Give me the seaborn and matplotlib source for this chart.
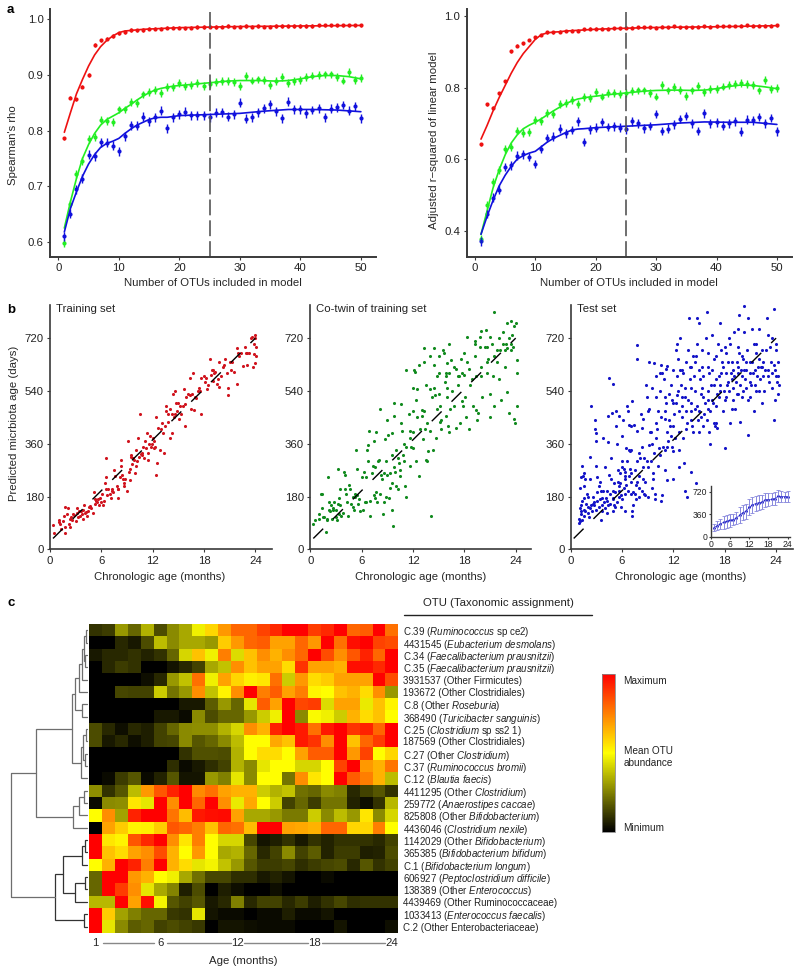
import numpy as np
import pandas as pd
import matplotlib
matplotlib.use('Agg')
import matplotlib.pyplot as plt
from matplotlib.colors import LinearSegmentedColormap
import seaborn as sns

n_otus = list(range(1, 51))

# panel a, left
rho_red = [.786,.859,.856,.879,.900,.954,.962,.965,.970,.975,.977,.981,.980,.981,.983,.983,.983,.985,.985,.985,.984,.985,.986,.986,.987,.986,.987,.988,.987,.987,.988,.987,.988,.987,.987,.988,.988,.988,.988,.988,.988,.988,.989,.989,.989,.989,.989,.989,.989,.989]
rho_green = [.598,.669,.722,.745,.785,.789,.820,.818,.816,.838,.838,.852,.850,.865,.870,.873,.868,.878,.878,.885,.880,.882,.885,.880,.884,.888,.889,.889,.887,.880,.898,.890,.892,.891,.882,.889,.897,.886,.889,.891,.897,.899,.900,.901,.901,.896,.890,.905,.891,.894]
rho_blue = [.610,.651,.695,.714,.757,.754,.779,.778,.773,.763,.790,.810,.809,.825,.817,.824,.836,.804,.824,.829,.834,.828,.828,.828,.824,.832,.833,.825,.829,.850,.821,.824,.833,.840,.847,.835,.822,.852,.838,.838,.831,.837,.840,.824,.839,.842,.846,.836,.844,.822]
rho_line_x_red = [1,2,3,4,5,6,7,8,9,10,11,12,13,14,16,18,20,25,30,40,50]
rho_line_red = [.797,.832,.866,.892,.916,.936,.951,.962,.970,.976,.979,.980,.981,.982,.983,.984,.985,.986,.987,.988,.989]
rho_line_x_green = [1,2,3,4,5,6,7,8,9,10,11,12,13,14,15,16,17,18,19,20,22,25,28,30,33,36,38,40,42,44,46,48,50]
rho_line_green = [.625,.672,.714,.750,.775,.795,.810,.820,.826,.832,.840,.847,.855,.862,.868,.873,.876,.878,.880,.881,.883,.886,.889,.890,.890,.889,.890,.893,.897,.899,.899,.897,.893]
rho_line_x_blue = [1,2,3,4,5,6,7,8,9,10,11,12,13,14,15,16,17,18,20,25,30,34,38,42,46,50]
rho_line_blue = [.618,.660,.690,.718,.740,.757,.770,.777,.781,.786,.795,.803,.810,.815,.820,.823,.824,.824,.827,.829,.831,.835,.838,.838,.837,.834]

# panel a, right
r2_red = [.642,.753,.744,.784,.817,.902,.917,.924,.933,.941,.947,.955,.955,.956,.958,.959,.959,.963,.965,.965,.964,.965,.966,.966,.967,.967,.968,.969,.969,.967,.970,.969,.971,.968,.969,.969,.970,.971,.970,.971,.971,.972,.972,.973,.974,.973,.973,.973,.973,.974]
r2_green = [.378,.473,.535,.570,.628,.635,.680,.674,.677,.710,.707,.728,.725,.755,.758,.765,.753,.773,.772,.788,.775,.785,.785,.782,.785,.790,.792,.792,.786,.775,.807,.792,.802,.793,.776,.792,.805,.787,.795,.797,.803,.807,.810,.813,.810,.806,.792,.820,.795,.799]
r2_blue = [.370,.447,.492,.515,.578,.583,.610,.613,.606,.586,.628,.659,.663,.685,.672,.682,.706,.648,.683,.688,.704,.690,.692,.688,.683,.706,.700,.686,.693,.726,.679,.685,.697,.712,.720,.700,.679,.728,.700,.703,.694,.700,.706,.677,.710,.708,.718,.700,.715,.678]
r2_line_x_red = [1,2,3,4,5,6,7,8,9,10,11,12,13,14,15,16,18,20,25,30,40,50]
r2_line_red = [.656,.694,.735,.772,.806,.840,.870,.895,.915,.935,.948,.953,.955,.956,.958,.959,.961,.963,.966,.968,.970,.973]
r2_line_x_green = [1,2,3,4,5,6,7,8,9,10,11,12,13,14,15,16,17,18,19,20,22,25,28,30,33,36,38,40,42,44,46,48,50]
r2_line_green = [.390,.455,.520,.570,.612,.645,.668,.685,.695,.703,.713,.724,.735,.745,.755,.762,.768,.771,.774,.776,.780,.785,.790,.792,.793,.792,.793,.797,.803,.807,.806,.802,.797]
r2_line_x_blue = [1,2,3,4,5,6,7,8,9,10,11,12,13,14,15,16,17,18,20,25,30,34,38,42,46,50]
r2_line_blue = [.390,.440,.485,.525,.555,.580,.600,.610,.617,.622,.635,.648,.658,.666,.674,.681,.684,.685,.688,.692,.696,.701,.704,.703,.703,.697]

# panel b
diag_x = [0.35, 24]
diag_y = [37, 720]

train_age = [0.3,0.5,1,1.1,1.2,1.3,1.5,1.6,1.7,1.8,1.7,2.1,2.2,2.3,2.3,2.5,2.7,2.8,3,3.1,3.2,3.3,3.4,3.5,3.7,3.8,3.9,4,4.1,4.2,4.4,4.5,4.7,4.8,5,5.1,5.2,5.3,5.4,5.6,5.7,5.9,6,6.1,6.3,6.4,6.5,6.6,6.6,6.7,7,7.1,7.2,7.4,7.5,7.6,7.8,8,8,8.2,8.3,8.3,8.4,8.6,8.7,8.8,9,9.1,9.3,9.4,9.5,9.5,9.6,9.8,9.9,10,10.2,10.3,10.4,10.5,10.6,10.7,10.9,11,11.2,11.3,11.4,11.5,11.6,11.7,11.9,12,12.1,12.3,12.4,12.5,12.4,12.6,12.8,13,13.1,13.3,13.4,13.6,13.6,13.8,14,14,14.2,14.3,14.4,14.5,14.6,14.7,14.8,15,15.1,15.3,15.5,15.6,15.8,15.8,16.1,16.3,16.4,16.5,16.7,16.8,16.9,17.1,17.3,17.4,17.6,17.7,18,18.1,18.3,18.5,18.7,18.8,19,19.1,19.3,19.5,19.7,19.8,20,20.3,20.5,20.7,20.8,20.8,21,21.3,21.5,21.8,21.9,22,22.3,22.6,22.8,23,23,23.3,23.6,23.7,23.8,23.9,24,24.1,24.1,
             2,2.6,3.6,4.3,5.5,6.2,6.8,7.3,7.9,8.5,9.2,9.7,10.1,10.8,11.1,11.8,12.2,13.2,13.8,14.6,15.2,15.9,16.6,17.5,18.2,18.9,19.2,19.6,20.2,21.1,22.1,22.9,23.5,24,23.8]
train_pred = [82,55,100,92,85,70,95,112,75,55,143,142,85,75,105,110,122,118,95,140,125,110,130,112,120,105,135,150,125,128,130,145,148,140,125,195,170,155,165,170,150,175,160,190,165,225,205,245,310,185,190,175,205,195,270,250,215,175,205,245,285,305,255,225,215,240,200,370,235,275,315,320,290,305,260,285,300,380,315,460,325,320,350,310,345,395,330,305,360,385,360,380,345,350,255,295,450,415,340,410,430,330,420,490,470,435,380,480,395,460,530,450,540,500,470,500,445,460,490,545,420,495,530,585,525,480,600,475,520,515,540,550,460,585,590,570,545,560,650,595,610,575,605,565,640,555,590,630,650,600,550,525,640,640,605,685,565,670,670,625,690,670,630,670,725,620,700,635,730,690,660,
              120,100,130,115,160,150,205,200,205,240,265,310,340,330,370,350,370,395,460,460,490,520,530,540,585,610,600,580,620,610,660,670,720,720,665]

cotwin_age = [0.3,0.5,1,1,1.2,1.4,1.4,1.6,1.8,2,2,2.1,2.2,2.3,2.4,2.5,2.6,2.7,2.8,3,3.1,3.2,3.2,3.3,3.4,3.5,3.5,3.6,3.8,3.9,4,4.2,4.3,4.4,4.5,4.6,4.7,5,5.1,5.2,5.3,5.4,5.5,5.6,5.7,5.8,6.1,6.3,6.4,6.5,6.6,6.7,6.8,6.9,7,7,7.2,7.4,7.5,7.6,7.7,7.7,7.8,7.9,8,8.1,8.2,8.4,8.5,8.6,8.7,8.8,8.9,9,9,9.1,9.2,9.3,9.5,9.6,9.6,9.6,9.7,9.8,9.8,9.9,10,10.2,10.3,10.4,10.5,10.6,10.6,10.7,10.8,11,11,11.1,11.2,11.5,11.6,11.7,11.8,12,12,12.1,12.2,12.3,12.5,12.7,13,13.2,13.3,13.4,13.5,13.6,13.8,14,14.1,14.3,14.5,14.5,14.6,14.7,14.8,15,15,15.1,15.2,15.3,15.5,15.6,15.7,15.8,16,16.1,16.2,16,16.4,16.6,16.8,17,17.2,17.4,17.5,17.7,17.9,18,18,18.1,18.3,18.5,18.6,18.9,19,19.2,19.4,19.5,19.6,19.8,20,20.1,20.4,20.6,20.7,20.8,21,21.2,21.4,21.5,21.8,22.1,22.2,22.5,22.7,22.9,23,23,23.2,23.4,23.4,23.6,23.8,24.1,24.1,23.9,24.2,23.8,21.5,20,20.5,21,22,22.5,23,23.5,24,18.3,19.2,19.3,17.6,16.2,14.5,13.3,13.3,14,11.2,12.7,12,12.5,13.5,14,15,16,17,15.8,16.2,
              1.5,2.2,3,4,5,5.2,6,6.5,7.3,7.6,8.3,8.6,9.3,9.8,10,10.5,11.2,11.6,12,12.4,12.8,13,13.6,14.2,14.8,15.3,15.9,16.3,16.8,17.3,17.7,18.2,18.7,19.4,19.8,20,20.6,21,21.5,21.8,22.3,22.8,23.2,23.7]
cotwin_pred = [85,100,120,105,190,190,140,110,60,105,100,245,160,130,150,105,140,135,160,110,100,155,275,175,120,205,150,115,125,265,255,190,160,115,220,205,155,145,135,180,340,185,275,155,170,130,135,265,160,245,340,300,355,405,115,165,260,370,185,175,400,195,160,300,305,480,190,240,120,160,375,300,180,440,255,390,175,260,225,395,320,135,80,500,455,265,215,205,310,295,250,495,430,405,320,360,300,215,180,460,405,285,350,400,345,610,605,510,450,250,475,375,470,410,305,300,335,405,115,340,630,550,525,380,480,660,530,490,435,410,680,670,570,455,520,420,400,635,645,540,490,415,590,590,430,505,490,595,670,520,640,410,615,580,490,660,475,440,465,725,590,520,690,640,600,650,450,700,590,490,640,580,680,740,620,700,535,685,465,700,680,730,760,600,490,430,645,445,810,745,748,725,720,700,770,780,770,725,710,700,650,700,685,685,640,660,610,630,550,545,560,545,600,550,615,600,600,
               110,135,135,205,180,190,245,160,285,280,255,260,210,280,340,270,350,380,470,300,410,455,430,520,590,440,590,480,620,560,600,450,560,590,690,620,690,530,660,680,510,680,720,690]

test_age = [1,1,1.1,1.1,1.1,1.2,1.2,1.2,1.3,1.3,1.4,1.5,1.5,1.6,1.6,1.7,1.8,1.9,2,2,2.2,2.3,2.3,2.4,2.5,2.6,2.6,2.7,2.7,2.8,2.8,2.9,3,3,3.1,3.1,3.3,3.4,3.4,3.5,3.5,3.6,3.7,3.8,3.8,4,4,4.2,4.2,4.2,4.4,4.4,4.5,4.5,4.6,4.7,4.7,4.8,4.9,5,5,5,5.1,5.2,5.3,5.3,5.4,5.5,5.6,5.6,5.7,5.8,5.8,5.9,6,6,6.1,6.2,6.3,6.3,6.4,6.4,6.5,6.5,6.6,6.7,6.8,6.8,6.9,7,7,7.1,7.2,7.2,7.2,7.3,7.4,7.5,7.6,7.6,7.7,7.7,7.8,7.8,8,8,8,8.2,8.3,8.3,8.4,8.5,8.6,8.6,8.7,8.8,8.9,9,9,9.1,9.2,9.3,9.4,9.5,9.5,9.6,9.6,9.7,9.8,9.8,10,10,10.1,10.2,10.3,10.4,10.4,10.5,10.6,10.7,10.7,10.9,11,11,11,11.1,11.2,11.3,11.3,11.3,11.5,11.6,11.7,11.7,11.8,11.9,12,12,12.1,12.3,12.4,12.3,12.4,12.5,12.6,12.7,12.7,12.8,12.9,13,13,13.1,13.2,13.3,13.4,13.5,13.5,13.6,13.6,13.7,13.8,13.9,14,14,14,14.1,14.2,14.3,14.4,14.5,14.6,14.7,14.8,14.9,15,15.1,15,15.2,15.4,15.5,15.5,15.6,15.8,15.9,16,16,16.2,16.3,16.2,16.4,16.5,16.6,16.8,16.9,17,17.1,17,17.1,17.3,17.5,17.6,17.8,17.8,18,18,18,18.2,18.3,18.4,18.5,18.6,18.7,18.8,19,19,19.1,19.2,19.4,19.5,19.6,19.6,19.7,19.8,19.9,20,20.1,20.2,20.3,20.4,20.5,20.6,20.7,20.7,20.9,21,21.2,21.3,21.4,21.5,21.6,21.7,21.8,22,22,22.2,22.3,22.4,22.5,22.7,22.9,23,23,23.2,23.4,23.5,23.5,23.7,23.7,23.8,23.9,24,24,24.1,24.2,24.3,24.2,15,15.3,16,16.5,17,17.5,18.5,19,19.5,20,20.5,21,21.5,22,22.5,14,14.5,13,12,12.5,11,10,9,8,7,6,
            1.2,1.3,1.5,1.7,2,2.1,2.4,2.9,3.1,3.3,3.6,3.9,4.1,4.3,4.6,4.9,5.1,5.2,5.4,5.5,5.7,5.9,6,6.2,6.4,6.6,6.7,6.8,6.9,7.1,7.3,7.5,7.7,8.1,8.3,8.4,8.7,8.9,9.2,9.4,9.5,9.7,10,10.2,10.4,10.6,10.8,11,11.1,11.4,11.5,11.8,12,12.2,12.4,12.6,12.8,13,13.1,13.3,13.5,13.7,13.9,14.1,14.3,14.5,14.6,14.8,15,15.2,15.3,15.5,15.7,15.9,16,16.1,16.3,16.5,16.7,16.8,17,17.2,17.3,17.5,17.6,17.7,17.9,18.1,18.2,18.4,18.6,18.8,18.9,19.1,19.3,19.4,19.5,19.7,19.8,20,20.1,20.3,20.5,20.7,20.9,21.1,21.2,21.4,21.7,21.9,22.1,22.3,22.6,22.8,23.1,23.3,23.5,23.9,24,24.2]
test_pred = [90,105,210,140,95,120,245,130,285,100,250,135,115,260,175,240,155,190,125,145,140,240,315,490,130,155,180,150,160,440,410,370,395,285,245,165,145,170,230,200,100,130,175,380,200,280,140,165,125,200,455,365,255,585,155,240,310,465,200,565,170,175,150,145,470,420,360,230,200,180,455,260,225,185,170,385,440,275,240,265,130,250,220,345,490,470,425,340,275,190,230,340,505,115,130,150,425,270,220,170,695,650,405,300,330,210,180,460,415,350,445,240,310,190,230,560,520,470,180,480,640,400,300,360,550,240,260,635,190,170,520,430,410,470,345,320,600,165,630,600,185,580,470,445,270,615,400,350,625,235,530,420,560,385,350,335,610,240,460,680,700,500,525,650,400,340,280,720,560,450,490,600,295,200,520,470,640,430,180,680,790,580,550,500,265,440,420,660,590,480,225,790,700,440,400,580,770,450,620,520,420,460,720,810,480,670,400,360,600,560,730,500,650,420,660,530,430,415,590,770,600,620,470,510,690,345,670,560,570,720,430,600,640,550,510,740,480,640,690,750,530,800,435,610,520,650,740,830,580,550,680,790,390,520,640,750,600,470,560,670,700,590,540,750,620,500,680,590,610,790,730,610,570,640,550,720,440,630,820,510,700,680,570,590,560,640,610,550,540,510,580,540,540,610,600,590,610,570,610,650,640,620,640,610,500,540,520,380,280,250,260,300,
             150,165,215,130,180,110,150,135,195,215,150,160,175,150,190,130,225,195,160,270,215,145,280,210,190,300,200,250,335,420,195,190,230,310,200,280,185,300,355,400,210,330,590,285,540,450,350,340,500,370,440,510,420,380,590,470,610,520,380,550,410,510,620,470,400,540,660,490,470,530,680,590,500,440,620,510,470,610,430,560,490,700,520,560,680,640,540,600,520,640,700,580,480,590,570,530,620,670,560,660,540,610,640,510,600,560,640,700,540,620,580,620,540,680,590,690,600,610,590,530]

inset_age = list(range(1, 25))
inset_mean = [145,175,205,230,245,265,270,300,345,385,405,470,510,530,545,555,590,595,600,610,650,640,640,640]
inset_err = [55,70,80,100,110,105,90,90,125,125,125,130,130,125,120,110,110,100,100,105,100,85,80,85]

# panel c
heat_values = [
    [.10,.12,.30,.20,.35,.15,.27,.33,.47,.58,.70,.80,.80,.87,.92,1,1,.88,.92,1,.80,.82,1,.78],
    [0,0,.08,.05,.15,.37,.27,.33,.33,.30,.60,.70,.80,.82,.68,.68,.80,.70,1,.78,.97,1,.87,.85],
    [.05,.08,.08,.10,.07,.10,.20,.42,.62,.47,.75,.43,.62,.72,.65,.72,.80,1,.85,.72,.83,.93,.80,1],
    [0,.08,.12,.10,0,0,.04,.08,.13,.33,.38,.72,.62,.68,.68,.57,.90,.68,.68,.65,.97,.97,.92,1],
    [0,0,0,0,.03,.08,.30,.38,.78,.47,.68,.58,.53,.55,.78,.40,.70,.57,.60,.68,.68,.68,1,.85],
    [0,0,.14,.13,.13,.40,.23,.30,.72,.38,.52,.72,1,.75,.82,.68,.75,.52,.50,.62,.65,.57,.72,.30],
    [0,0,0,0,0,0,0,.05,.05,.18,.30,.20,.45,.82,.68,1,.86,.88,.43,.68,.68,.46,.62,.52],
    [0,0,0,0,0,.05,.05,.02,.27,.15,.20,.20,.30,.40,.47,1,.27,.49,.47,.40,.65,.57,.62,.50],
    [.15,.08,.03,.08,.06,.13,.20,.27,.28,.28,.35,.42,.72,.65,.93,1,.95,.78,.95,1,.90,.93,.80,1],
    [.15,.05,.08,.03,.06,.13,.14,.27,.17,.20,.27,.37,.50,.50,.67,.62,.95,.90,.72,1,.62,.80,.88,1],
    [0,0,0,0,0,0,0,.10,.16,.16,.15,.35,.50,.57,.57,.50,.68,.82,.82,1,.70,.87,.50,.58],
    [0,0,0,0,0,0,.09,.02,.05,.09,.13,.35,.27,.45,.50,.50,.42,.42,.50,.87,1,.70,.65,.77],
    [0,.02,.12,.17,.02,.07,.17,.04,.04,.30,.25,.45,.27,.50,.50,.23,.72,.55,.50,1,.82,.75,.65,.37],
    [.28,.10,.17,.37,.70,.83,.93,1,.73,.78,.68,.65,.65,.40,.35,.38,.22,.20,.27,.25,.08,.13,.17,.10],
    [.02,.27,.28,.55,.45,1,.72,1,.80,1,.72,.46,.67,.50,.40,.13,.20,.12,.23,.23,.07,.03,.10,.36],
    [.50,.72,.32,.93,1,1,.77,.63,.95,.97,.98,.68,.33,.33,.30,.24,.24,.40,.27,.37,.30,.55,.27,.42],
    [0,.68,.60,.52,.53,.60,.83,.80,.75,.62,.80,.78,.63,1,1,.68,.67,.65,.80,.80,.58,.58,.75,.50],
    [1,.55,.52,.83,.92,1,.72,.55,.75,.50,.42,.42,.14,.04,.06,.10,.05,.10,.07,.10,.10,.10,.08,.13],
    [1,.62,.57,.68,.72,.85,.65,.50,.70,.50,.33,.35,.20,.08,.13,.27,.13,.18,.07,.12,.12,.06,.07,.15],
    [.50,.65,1,.93,.75,1,.65,.57,.45,.48,.38,.30,.17,.12,.12,.14,.09,.12,.14,.15,.08,.17,.10,.13],
    [.20,1,1,.70,.65,.50,.47,.33,.22,.14,.14,.09,.09,.05,.07,.04,0,0,.02,0,0,0,0,0],
    [.20,1,.88,.72,.45,.33,.26,.06,.15,0,.06,.03,0,0,.03,0,0,0,0,0,0,0,0,0],
    [.36,.36,1,.68,.97,.48,.17,.13,.17,.05,.08,.25,.08,.13,.13,.08,.12,.06,.10,.14,.09,.10,.10,.10],
    [1,.60,.32,.25,.20,.20,.11,.10,.45,.04,.02,.02,0,.02,.02,.06,.02,.02,.04,0,0,0,0,0],
    [1,.45,.27,.18,.20,.13,.15,.13,.11,0,.04,.04,.03,.02,.02,.02,0,0,0,.04,0,0,0,.03],
]
otu_labels = [
    r'C.39 ($\mathit{Ruminococcus}$ sp ce2)',
    r'4431545 ($\mathit{Eubacterium\ desmolans}$)',
    r'C.34 ($\mathit{Faecalibacterium\ prausnitzii}$)',
    r'C.35 ($\mathit{Faecalibacterium\ prausnitzii}$)',
    '3931537 (Other Firmicutes)',
    '193672 (Other Clostridiales)',
    r'C.8 (Other $\mathit{Roseburia}$)',
    r'368490 ($\mathit{Turicibacter\ sanguinis}$)',
    r'C.25 ($\mathit{Clostridium}$ sp ss2 1)',
    '187569 (Other Clostridiales)',
    r'C.27 (Other $\mathit{Clostridium}$)',
    r'C.37 ($\mathit{Ruminococcus\ bromii}$)',
    r'C.12 ($\mathit{Blautia\ faecis}$)',
    r'4411295 (Other $\mathit{Clostridium}$)',
    r'259772 ($\mathit{Anaerostipes\ caccae}$)',
    r'825808 (Other $\mathit{Bifidobacterium}$)',
    r'4436046 ($\mathit{Clostridium\ nexile}$)',
    r'1142029 (Other $\mathit{Bifidobacterium}$)',
    r'365385 ($\mathit{Bifidobacterium\ bifidum}$)',
    r'C.1 ($\mathit{Bifidobacterium\ longum}$)',
    r'606927 ($\mathit{Peptoclostridium\ difficile}$)',
    r'138389 (Other $\mathit{Enterococcus}$)',
    '4439469 (Other Ruminococcaceae)',
    r'1033413 ($\mathit{Enterococcus\ faecalis}$)',
    'C.2 (Other Enterobacteriaceae)',
]
age_ticks = [1, 6, 12, 18, 24]

# tree: (merge height, upper child, lower child), ints are heatmap rows
tree_rows_1_8 = (14, (10, (7, (5, (3, 1, 2), (4, 3, 4)), 5), 6), (7, 7, 8))
tree_rows_9_13 = (8, (6, (3, 9, 10), (4, 11, 12)), 13)
tree_rows_14_17 = (16, (10, (5, 14, 15), 16), 17)
tree_upper = (53, (17, tree_rows_1_8, tree_rows_9_13), tree_rows_14_17)
tree_lower = (34, (26, (7, (4, 18, 19), 20), (14, (4.5, 21, 22), 23)), (5, 24, 25))

sns.set_style('ticks')
plt.rcParams['font.family'] = ['Liberation Sans', 'DejaVu Sans']
plt.rcParams['mathtext.fontset'] = 'custom'
plt.rcParams['mathtext.rm'] = 'Liberation Sans'
plt.rcParams['mathtext.it'] = 'Liberation Sans:italic'
plt.rcParams['mathtext.default'] = 'regular'
plt.rcParams['text.color'] = '#222222'

W, H = 800, 971
TXT = 8.2
fig = plt.figure(figsize=(W / 100, H / 100), dpi=100)


def px_axes(left, top, right, bottom):
    return fig.add_axes([left / W, 1 - bottom / H, (right - left) / W, (bottom - top) / H])


def style_axes(ax, lw):
    sns.despine(ax=ax)
    for side in ['left', 'bottom']:
        ax.spines[side].set_linewidth(lw)
        ax.spines[side].set_color('#3a3a3a')
    ax.tick_params(labelsize=TXT, length=2.5, width=0.8, pad=2, color='#3a3a3a', labelcolor='#222222')
    ax.patch.set_alpha(0)


def model_panel(ax, pts, lines, ylim, yticks, ylabel, ylab_x, ylab_y):
    colors = ['#ee1111', '#22ee22', '#1111dd']
    errs = [.003, .007, .008]
    if ylim[0] < .5:
        errs = [.004, .011, .012]
    for y, (lx, ly), c, e in zip(pts, lines, colors, errs):
        ax.vlines(n_otus, np.array(y) - e, np.array(y) + e, color=c, lw=1)
        sns.scatterplot(x=n_otus, y=y, ax=ax, color=c, s=9, linewidth=0, legend=False)
        sns.lineplot(x=lx, y=ly, ax=ax, color=c, lw=1.2, errorbar=None)
    ax.axvline(25, color='#555555', lw=1.2, dashes=(9.5, 3))
    ax.set_xlim(*px_lim_a)
    ax.set_ylim(*ylim)
    ax.set_xticks([0, 10, 20, 30, 40, 50])
    ax.set_yticks(yticks)
    ax.set_yticklabels(['%.1f' % t for t in yticks])
    ax.set_xlabel('Number of OTUs included in model', fontsize=TXT)
    ax.set_ylabel(ylabel, fontsize=TXT)
    ax.xaxis.set_label_coords(0.5, -0.085)
    ax.yaxis.set_label_coords(ylab_x, ylab_y)
    style_axes(ax, 1.4)


px_lim_a = (-1.37, 52.45)
ax_a1 = px_axes(50, 9, 375.7, 257)
model_panel(ax_a1,
            [rho_red, rho_green, rho_blue],
            [(rho_line_x_red, rho_line_red), (rho_line_x_green, rho_line_green), (rho_line_x_blue, rho_line_blue)],
            (.573, 1.0185), [.6, .7, .8, .9, 1.0], "Spearman's rho", -0.097, 0.45)
ax_a2 = px_axes(466.7, 9, 791.7, 257)
model_panel(ax_a2,
            [r2_red, r2_green, r2_blue],
            [(r2_line_x_red, r2_line_red), (r2_line_x_green, r2_line_green), (r2_line_x_blue, r2_line_blue)],
            (.3265, 1.0196), [.4, .6, .8, 1.0], 'Adjusted r\u2212squared of linear model', -0.085, 0.47)


def age_panel(left, right, age, pred, color, title, ylabel=None):
    ax = px_axes(left, 305, right, 549.3)
    sns.scatterplot(x=age, y=pred, ax=ax, color=color, s=5, linewidth=0, legend=False, clip_on=False)
    sns.lineplot(x=diag_x, y=diag_y, ax=ax, color='black', lw=1.0, dashes=(10, 10), errorbar=None)
    ax.set_xlim(0, 24 * (right - left) / (205.4))
    ax.set_ylim(0, 833)
    ax.set_xticks([0, 6, 12, 18, 24])
    ax.set_yticks([0, 180, 360, 540, 720])
    ax.set_xlabel('Chronologic age (months)', fontsize=TXT)
    ax.xaxis.set_label_coords(110 / (right - left), -0.092)
    if ylabel:
        ax.set_ylabel(ylabel, fontsize=TXT)
        ax.yaxis.set_label_coords(-0.14, 0.515)
    else:
        ax.set_ylabel('')
    ax.text(6 / (right - left), 0.985, title, transform=ax.transAxes, fontsize=TXT, va='center')
    style_axes(ax, 1.2)
    return ax


age_panel(50, 271.7, train_age, train_pred, '#d0141e', 'Training set', 'Predicted micrbiota age (days)')
age_panel(310.3, 530.7, cotwin_age, cotwin_pred, '#118a1e', 'Co-twin of training set')
age_panel(570.7, 792.7, test_age, test_pred, '#1414c8', 'Test set')

ax_in = px_axes(710.7, 485.7, 790, 536.7)
ax_in.errorbar(inset_age, inset_mean, yerr=inset_err, color='#1414c8', ecolor='#8888dd', elinewidth=0.7,
               capsize=1.2, capthick=0.6, lw=0.4)
sns.scatterplot(x=inset_age, y=inset_mean, ax=ax_in, color='#1414c8', s=4, linewidth=0, legend=False)
ax_in.set_xlim(0, 24.7)
ax_in.set_ylim(0, 816)
ax_in.set_xticks([0, 6, 12, 18, 24])
ax_in.set_yticks([0, 360, 720])
style_axes(ax_in, 1.0)
ax_in.tick_params(labelsize=6.2, length=1.5, pad=1)

# heatmap
heat_df = pd.DataFrame(heat_values, index=otu_labels)
heat_cmap = LinearSegmentedColormap.from_list('otu', ['black', 'yellow', 'red'])
ax_h = px_axes(89.3, 624, 398.3, 932.7)
cax = px_axes(602, 674, 615, 832)
sns.heatmap(heat_df, ax=ax_h, cmap=heat_cmap, vmin=0, vmax=1, cbar_ax=cax, cbar_kws={'ticks': []},
            xticklabels=False, yticklabels=True)
ax_h.yaxis.tick_right()
ax_h.tick_params(axis='y', length=0, pad=3.5, labelsize=7.0, labelrotation=0)
ax_h.tick_params(axis='x', length=0, pad=4, labelsize=TXT, bottom=True)
for t in ax_h.get_yticklabels():
    t.set_color('#222222')
tick_pos = [a - 0.5 for a in age_ticks]
ax_h.set_xticks(tick_pos)
ax_h.set_xticklabels([str(a) for a in age_ticks], rotation=0)
for p0, p1 in zip(tick_pos[:-1], tick_pos[1:]):
    ax_h.plot([p0 + .55, p1 - .5], [25.83, 25.83], color='#888888', lw=1, clip_on=False)
ax_h.set_xlabel('Age (months)', fontsize=TXT)
ax_h.xaxis.set_label_coords((243 - 89.3) / 309, -0.075)
ax_h.set_ylabel('')
cbar = ax_h.collections[0].colorbar
cbar.outline.set_edgecolor('#888888')
cbar.outline.set_linewidth(0.6)

# dendrogram
ax_d = px_axes(8, 624, 89, 932.7)
ax_d.set_xlim(81, 0)
ax_d.set_ylim(25, 0)
ax_d.axis('off')


def draw_tree(node, color):
    if isinstance(node, int):
        return 2, node - 0.5
    h, up, low = node
    hu, yu = draw_tree(up, color)
    hl, yl = draw_tree(low, color)
    ax_d.plot([hu, h, h, hl], [yu, yu, yl, yl], color=color, lw=0.9, solid_joinstyle='miter')
    return h, (yu + yl) / 2


hu, yu = draw_tree(tree_upper, '#6e6e6e')
hl, yl = draw_tree(tree_lower, '#333333')
ax_d.plot([hu, 78, 78, hl], [yu, yu, yl, yl], color='#6e6e6e', lw=0.9)

# free text
for s, x, y in [('a', 7, 10), ('b', 7, 310), ('c', 7, 603)]:
    fig.text(x / W, 1 - y / H, s, fontsize=9.5, fontweight='bold', color='black', ha='left', va='center')
fig.text(498 / W, 1 - 603.5 / H, 'OTU (Taxonomic assignment)', fontsize=TXT, ha='center', va='center')
fig.add_artist(plt.Line2D([404 / W, 592 / W], [1 - 615.5 / H, 1 - 615.5 / H], color='#222222', lw=1))
for s, y in [('Maximum', 680.5), ('Mean OTU', 751), ('abundance', 762.5), ('Minimum', 827.5)]:
    fig.text(623.5 / W, 1 - y / H, s, fontsize=7.2, ha='left', va='center')

plt.savefig('out.png', dpi=100)
